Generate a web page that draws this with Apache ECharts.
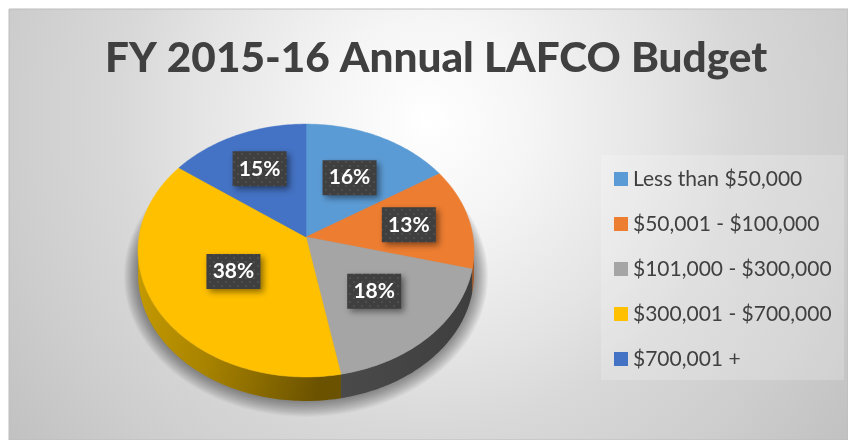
<!DOCTYPE html>
<html>
<head>
<meta charset="utf-8">
<style>
  html, body { margin: 0; padding: 0; background: #fff; }
  #chart { width: 848px; height: 440px; }
</style>
<script src="https://cdn.jsdelivr.net/npm/echarts@6/dist/echarts.min.js"></script>
</head>
<body>
<div id="chart"></div>
<script>
const categories = ['Less than $50,000', '$50,001 - $100,000', '$101,000 - $300,000', '$300,001 - $700,000', '$700,001 +']
const shares = [16, 13, 18, 38, 15]
const colors = ['#5B9BD5', '#ED7D31', '#A5A5A5', '#FFC000', '#4472C4']
const labelRadius = [0.57, 0.63, 0.57, 0.5, 0.65]

// tilted disc: apex sits above the middle of the ellipse
const apexX = 306
const apexY = 237
const radiusX = 167
const radiusY = 125
const tilt = 0.107
const wallHeight = 24

const project = (deg, rho = 1) => {
  const rad = deg * Math.PI / 180
  const depth = 1 + tilt * rho * Math.cos(rad)
  return [
    apexX + radiusX * rho * Math.sin(rad) / depth,
    apexY - radiusY * rho * Math.cos(rad) / depth
  ]
}

const arc = (from, to) => {
  const points = []
  const steps = Math.max(1, Math.ceil(Math.abs(to - from)))
  for (let i = 0; i <= steps; i++) points.push(project(from + (to - from) * i / steps))
  return points
}

const total = shares.reduce((a, b) => a + b, 0)
const startShare = shares.map((_, i) => shares.slice(0, i).reduce((a, b) => a + b, 0))

const wallFill = [
  null,
  '#A9551F',
  new echarts.graphic.LinearGradient(0, 0, 1, 0, [
    { offset: 0, color: '#4A4A4A' },
    { offset: 1, color: '#3E3E3E' }
  ]),
  new echarts.graphic.LinearGradient(0, 0, 1, 0.35, [
    { offset: 0, color: '#C79C00' },
    { offset: 0.45, color: '#A88300' },
    { offset: 1, color: '#6B5200' }
  ]),
  null
]

const dotCanvas = document.createElement('canvas')
dotCanvas.width = 8
dotCanvas.height = 8
const dotCtx = dotCanvas.getContext('2d')
dotCtx.fillStyle = '#3F3F3F'
dotCtx.fillRect(0, 0, 8, 8)
dotCtx.fillStyle = '#4E4E4E'
dotCtx.fillRect(1, 1, 2, 2)
dotCtx.fillRect(5, 5, 2, 2)

const renderSlice = (index) => (params, api) => {
  const from = startShare[index] / total * 360
  const to = from + api.value(0) / total * 360
  const children = []

  const wallFrom = Math.max(from, 96)
  const wallTo = Math.min(to, 264)
  if (wallFrom < wallTo && wallFill[index]) {
    const rim = arc(wallFrom, wallTo)
    const lower = rim.map(p => [p[0], p[1] + wallHeight]).reverse()
    children.push({
      type: 'polygon',
      shape: { points: rim.concat(lower) },
      style: { fill: wallFill[index] }
    })
  }

  children.push({
    type: 'polygon',
    shape: { points: [[apexX, apexY]].concat(arc(from, to)) },
    style: { fill: colors[index], stroke: colors[index], lineWidth: 0.5 }
  })

  const mid = project((from + to) / 2, labelRadius[index])
  children.push({
    type: 'rect',
    z2: 10,
    shape: { x: mid[0] - 27, y: mid[1] - 17.5, width: 54, height: 35 },
    style: {
      fill: { type: 'pattern', image: dotCanvas, repeat: 'repeat' },
      shadowBlur: 6,
      shadowOffsetX: 3,
      shadowOffsetY: 3,
      shadowColor: 'rgba(0, 0, 0, 0.45)'
    }
  })
  children.push({
    type: 'text',
    z2: 11,
    style: {
      text: api.value(0) + '%',
      x: mid[0],
      y: mid[1],
      fill: '#FFFFFF',
      font: 'bold 21px Lato',
      align: 'center',
      verticalAlign: 'middle'
    }
  })
  return { type: 'group', children }
}

// soft halo under the disc, stacked faint rings
const renderShadow = () => {
  const rim = arc(0, 360)
  const children = []
  for (let grow = 14; grow >= 1; grow--) {
    children.push({
      type: 'polygon',
      shape: {
        points: rim.map(p => [
          apexX + (p[0] - apexX) * (1 + grow / radiusX),
          apexY + wallHeight + (p[1] - apexY) * (1 + grow / radiusY)
        ])
      },
      style: { fill: 'rgba(0, 0, 0, 0.03)' }
    })
  }
  return { type: 'group', children }
}

const chart = echarts.init(document.getElementById('chart'), null, { renderer: 'canvas' })

chart.setOption({
  animation: false,
  backgroundColor: '#FFFFFF',
  tooltip: { show: false },
  title: {
    text: 'FY 2015-16 Annual LAFCO Budget',
    left: 105,
    top: 37,
    padding: 0,
    textStyle: { fontFamily: 'Lato', fontWeight: 900, fontSize: 42.3, color: '#404040' }
  },
  legend: {
    orient: 'vertical',
    left: 614,
    top: 167,
    padding: 0,
    data: categories,
    icon: 'rect',
    itemWidth: 14,
    itemHeight: 14,
    itemGap: 21,
    selectedMode: false,
    textStyle: { fontFamily: 'Lato', fontSize: 21, color: '#404040', lineHeight: 24 }
  },
  graphic: [
    {
      type: 'rect',
      silent: true,
      z: -2,
      shape: { x: 9, y: 9, width: 839, height: 431 },
      style: {
        fill: new echarts.graphic.RadialGradient(0.5, 0.26, 1.2, [
          { offset: 0, color: '#FFFFFF' },
          { offset: 0.2, color: '#F5F5F5' },
          { offset: 0.45, color: '#E4E4E4' },
          { offset: 0.6, color: '#D8D8D8' },
          { offset: 0.8, color: '#CECECE' },
          { offset: 1, color: '#C2C2C2' }
        ]),
        stroke: '#BDBDBD',
        lineWidth: 1
      }
    },
    {
      type: 'rect',
      silent: true,
      z: -1,
      shape: { x: 601, y: 155, width: 243, height: 225 },
      style: { fill: 'rgba(255, 255, 255, 0.2)' }
    }
  ],
  series: [
    {
      type: 'custom',
      name: 'shadow',
      coordinateSystem: 'none',
      silent: true,
      data: [[1]],
      renderItem: renderShadow
    }
  ].concat(categories.map((name, i) => ({
    type: 'custom',
    name,
    coordinateSystem: 'none',
    silent: true,
    itemStyle: { color: colors[i] },
    data: [[shares[i]]],
    renderItem: renderSlice(i)
  })))
})
</script>
</body>
</html>
